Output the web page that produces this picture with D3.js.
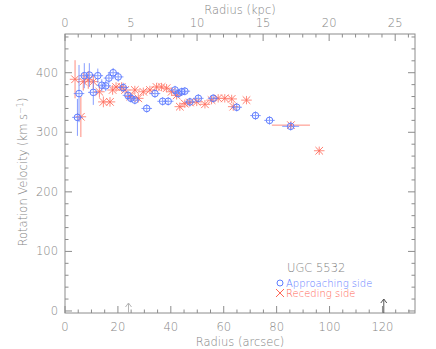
<!DOCTYPE html>
<html>
<head>
<meta charset="utf-8">
<script src="https://cdn.jsdelivr.net/npm/d3@7"></script>
<style>
  body { margin: 0; background: #fff; }
  svg text { font-family: "DejaVu Sans", "Liberation Sans", sans-serif; font-weight: 300; }
</style>
</head>
<body>
<div id="chart"></div>
<script>
// approaching side (blue circles): radius in arcsec, velocity, errors
var appR    = [4.7, 5.3, 7.3, 9.2, 10.7, 12.4, 13.9, 15.4, 16.6, 18.2, 20.1, 22.0, 23.8, 24.9, 26.4, 30.9,
               34.0, 36.9, 39.0, 41.6, 42.8, 44.1, 45.3, 47.2, 50.4, 56.0, 64.9, 72.0, 77.3, 85.3];
var appV    = [325, 365, 395, 396, 367, 395, 379, 378, 391, 400, 393, 375, 362, 357, 354, 340,
               365, 352, 352, 371, 365, 368, 369, 351, 357, 357, 342, 328, 320, 310];
var appVerr = [31, 48, 21, 20, 21, 12, 10, 9, 9, 8, 8, 8, 8, 7, 7, 7,
               7, 7, 7, 7, 7, 7, 7, 7, 7, 7, 7, 7, 7, 7];
var appRerr = [2, 2, 2, 2, 2, 2, 2, 2, 2, 2, 2, 2, 2, 2, 2, 2,
               2, 2, 2, 2, 2, 2, 2, 2, 2, 2, 2, 2, 2, 3.2];

// receding side (red crosses)
var recR    = [3.8, 6.0, 6.9, 8.8, 10.7, 13.0, 14.5, 17.0, 18.0, 19.3, 21.4, 22.7, 24.6, 26.4, 27.7, 29.6,
               32.1, 34.6, 36.5, 38.4, 40.3, 42.2, 43.4, 45.3, 47.2, 49.8, 52.9, 55.4, 57.9, 60.4,
               63.0, 63.6, 68.6, 85.4, 96.1];
var recV    = [389, 326, 385, 388, 385, 368, 351, 351, 371, 376, 376, 371, 360, 371, 357, 368,
               371, 376, 376, 374, 368, 362, 343, 348, 350, 351, 347, 354, 357, 357,
               356, 343, 354, 312, 269];
var recVerr = [32, 34, 15, 15, 12, 10, 9, 8, 8, 8, 8, 7, 7, 7, 7, 7,
               7, 7, 7, 7, 7, 7, 7, 7, 7, 7, 7, 7, 7, 7,
               7, 7, 7, 7, 7];
var recRerr = [2, 2, 2, 2, 2, 2, 2, 2, 2, 2, 2, 2, 2, 2, 2, 2,
               2, 2, 2, 2, 2, 2, 2, 2, 2, 2, 2, 2, 2, 2,
               2, 2, 2, 7.2, 2];

var arcsecTicks = [0, 20, 40, 60, 80, 100, 120];
var kpcTicks = [0, 5, 10, 15, 20, 25];
var velTicks = [0, 100, 200, 300, 400];
var arrowR = [24, 120.5];

var W = 436, H = 349;
var mLeft = 65, mRight = 415, mTop = 34, mBottom = 313;
var axisColor = '#8c8c8c', textColor = '#858585';
var blue = '#5f7dff', red = '#ff6655';

var svg = d3.select('#chart').append('svg')
  .attr('width', W)
  .attr('height', H);

var x = d3.scaleLinear().domain([0, 132.3]).range([mLeft, mRight]);
var xKpc = d3.scaleLinear().domain([0, 26.5]).range([mLeft, mRight]);
var y = d3.scaleLinear().domain([-3.4, 465]).range([mBottom, mTop]);

// frame
svg.append('rect')
  .attr('x', mLeft).attr('y', mTop)
  .attr('width', mRight - mLeft).attr('height', mBottom - mTop)
  .attr('fill', 'none').attr('stroke', axisColor).attr('stroke-width', 1);

// inward ticks
var ticks = svg.append('g').attr('stroke', axisColor).attr('stroke-width', 1);
// bottom
d3.range(0, 132, 5).forEach(function (d) {
  var len = d % 20 === 0 ? 7 : 3.5;
  ticks.append('line').attr('x1', x(d)).attr('x2', x(d))
    .attr('y1', mBottom).attr('y2', mBottom - len);
});
// top
d3.range(0, 27, 1).forEach(function (d) {
  var len = d % 5 === 0 ? 7 : 3.5;
  ticks.append('line').attr('x1', xKpc(d)).attr('x2', xKpc(d))
    .attr('y1', mTop).attr('y2', mTop + len);
});
// left / right
d3.range(0, 461, 20).forEach(function (d) {
  var len = d % 100 === 0 ? 7 : 3.5;
  ticks.append('line').attr('x1', mLeft).attr('x2', mLeft + len)
    .attr('y1', y(d)).attr('y2', y(d));
  ticks.append('line').attr('x1', mRight).attr('x2', mRight - len)
    .attr('y1', y(d)).attr('y2', y(d));
});

// tick labels
svg.selectAll('.xl').data(arcsecTicks).enter().append('text')
  .attr('x', function (d) { return x(d); })
  .attr('y', 331)
  .attr('text-anchor', 'middle')
  .attr('font-size', 11.5).attr('fill', textColor)
  .text(function (d) { return d; });

svg.selectAll('.kl').data(kpcTicks).enter().append('text')
  .attr('x', function (d) { return xKpc(d); })
  .attr('y', 27)
  .attr('text-anchor', 'middle')
  .attr('font-size', 11.5).attr('fill', textColor)
  .text(function (d) { return d; });

svg.selectAll('.yl').data(velTicks).enter().append('text')
  .attr('x', 58)
  .attr('y', function (d) { return y(d) + 4; })
  .attr('text-anchor', 'end')
  .attr('font-size', 11.5).attr('fill', textColor)
  .text(function (d) { return d; });

// axis titles
svg.append('text').attr('x', 240).attr('y', 346)
  .attr('text-anchor', 'middle').attr('font-size', 11.5).attr('fill', textColor)
  .text('Radius (arcsec)');
svg.append('text').attr('x', 240).attr('y', 14)
  .attr('text-anchor', 'middle').attr('font-size', 11.5).attr('fill', textColor)
  .text('Radius (kpc)');
var yt = svg.append('text')
  .attr('transform', 'translate(27,172) rotate(-90)')
  .attr('text-anchor', 'middle').attr('font-size', 11.5).attr('fill', textColor);
yt.append('tspan').text('Rotation Velocity (km s');
yt.append('tspan').attr('dy', -4).attr('font-size', 8).text('−1');
yt.append('tspan').attr('dy', 4).text(')');

// data
function series(rs, vs, verr, rerr) {
  return rs.map(function (r, i) {
    return { r: r, v: vs[i], ve: verr[i], re: rerr[i] };
  });
}
var app = series(appR, appV, appVerr, appRerr);
var rec = series(recR, recV, recVerr, recRerr);

function errorBars(data, color) {
  var g = svg.append('g').attr('stroke', color).attr('stroke-width', 1).attr('opacity', 0.75);
  g.selectAll('.ev').data(data).enter().append('line')
    .attr('x1', function (d) { return x(d.r); })
    .attr('x2', function (d) { return x(d.r); })
    .attr('y1', function (d) { return y(d.v - d.ve); })
    .attr('y2', function (d) { return y(d.v + d.ve); });
  g.selectAll('.eh').data(data).enter().append('line')
    .attr('x1', function (d) { return x(d.r - d.re); })
    .attr('x2', function (d) { return x(d.r + d.re); })
    .attr('y1', function (d) { return y(d.v); })
    .attr('y2', function (d) { return y(d.v); });
  return g;
}

errorBars(rec, red);
var rg = svg.append('g').attr('stroke', red).attr('stroke-width', 1).attr('opacity', 0.85);
rg.selectAll('path').data(rec).enter().append('path')
  .attr('d', function (d) {
    var cx = x(d.r), cy = y(d.v), s = 3.8;
    return 'M' + (cx - s) + ',' + (cy - s) + 'L' + (cx + s) + ',' + (cy + s) +
      'M' + (cx - s) + ',' + (cy + s) + 'L' + (cx + s) + ',' + (cy - s);
  });

errorBars(app, blue);
svg.append('g').selectAll('circle').data(app).enter().append('circle')
  .attr('cx', function (d) { return x(d.r); })
  .attr('cy', function (d) { return y(d.v); })
  .attr('r', 3.3)
  .attr('fill', 'none').attr('stroke', blue).attr('stroke-width', 1);

// arrows at the bottom
var arrowColors = ['#b5b5b5', '#555555'];
var arrowLen = [10, 14];
arrowR.forEach(function (r, i) {
  var ax = x(r), tipY = mBottom - arrowLen[i];
  svg.append('path')
    .attr('d', 'M' + ax + ',' + mBottom + 'L' + ax + ',' + tipY +
      'M' + (ax - 3) + ',' + (tipY + 4) + 'L' + ax + ',' + tipY + 'L' + (ax + 3) + ',' + (tipY + 4))
    .attr('fill', 'none').attr('stroke', arrowColors[i]).attr('stroke-width', 1);
});

// legend
svg.append('text').attr('x', 287).attr('y', 272)
  .attr('font-size', 11.5).attr('fill', textColor).text('UGC 5532');
svg.append('circle').attr('cx', 280).attr('cy', 283).attr('r', 3)
  .attr('fill', 'none').attr('stroke', blue);
svg.append('text').attr('x', 286).attr('y', 287)
  .attr('font-size', 10).attr('fill', blue).text('Approaching side');
svg.append('path')
  .attr('d', 'M276,289L284,297M276,297L284,289')
  .attr('stroke', red).attr('fill', 'none');
svg.append('text').attr('x', 286).attr('y', 297)
  .attr('font-size', 10).attr('fill', red).text('Receding side');
</script>
</body>
</html>
